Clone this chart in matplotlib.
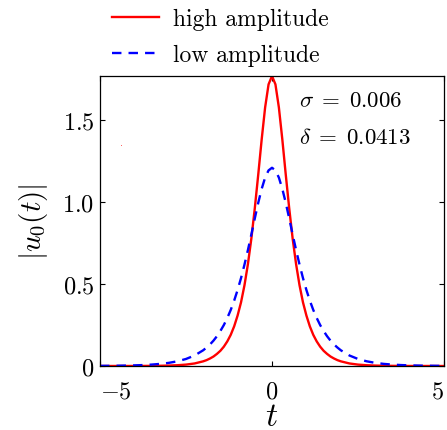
import numpy as np
import matplotlib
matplotlib.use("Agg")
import matplotlib.pyplot as plt

plt.rcParams['font.family'] = 'serif'
plt.rcParams['font.serif'] = ['cmr10', 'DejaVu Serif']
plt.rcParams['mathtext.fontset'] = 'cm'
plt.rcParams['axes.formatter.use_mathtext'] = True

# values (pulse profiles |u0(t)|)
t = [-5.0, -4.75, -4.5, -4.25, -4.0, -3.75, -3.5, -3.25, -3.0, -2.75, -2.5, -2.25,
     -2.0, -1.9, -1.8, -1.7, -1.6, -1.5, -1.4, -1.3, -1.2, -1.1, -1.0, -0.9, -0.8,
     -0.7, -0.6, -0.5, -0.4, -0.3, -0.2, -0.1, 0.0, 0.1, 0.2, 0.3, 0.4, 0.5, 0.6,
     0.7, 0.8, 0.9, 1.0, 1.1, 1.2, 1.3, 1.4, 1.5, 1.6, 1.7, 1.8, 1.9, 2.0,
     2.25, 2.5, 2.75, 3.0, 3.25, 3.5, 3.75, 4.0, 4.25, 4.5, 4.75, 5.0]
high = [0.0, 0.0, 0.0001, 0.0001, 0.0002, 0.0004, 0.0008, 0.0014, 0.0026, 0.0047, 0.0085, 0.0155,
        0.0285, 0.036, 0.046, 0.058, 0.074, 0.093, 0.118, 0.150, 0.190, 0.242, 0.308, 0.389, 0.493,
        0.622, 0.778, 0.963, 1.168, 1.383, 1.578, 1.719, 1.770, 1.719, 1.578, 1.383, 1.168, 0.963, 0.778,
        0.622, 0.493, 0.389, 0.308, 0.242, 0.190, 0.150, 0.118, 0.093, 0.074, 0.058, 0.046, 0.036, 0.0285,
        0.0155, 0.0085, 0.0047, 0.0026, 0.0014, 0.0008, 0.0004, 0.0002, 0.0001, 0.0001, 0.0, 0.0]
low = [0.0008, 0.0011, 0.0017, 0.0026, 0.0038, 0.0057, 0.0086, 0.0128, 0.0192, 0.0287, 0.0429, 0.0642,
       0.096, 0.113, 0.132, 0.155, 0.182, 0.214, 0.250, 0.293, 0.342, 0.399, 0.464, 0.537, 0.619,
       0.708, 0.803, 0.901, 0.996, 1.081, 1.150, 1.194, 1.210, 1.194, 1.150, 1.081, 0.996, 0.901, 0.803,
       0.708, 0.619, 0.537, 0.464, 0.399, 0.342, 0.293, 0.250, 0.214, 0.182, 0.155, 0.132, 0.113, 0.096,
       0.0642, 0.0429, 0.0287, 0.0192, 0.0128, 0.0086, 0.0057, 0.0038, 0.0026, 0.0017, 0.0011, 0.0008]
stray_t = [-4.4]
stray_u = [1.343]

fig = plt.figure(figsize=(4.47, 4.31), dpi=100)
ax = fig.add_axes([0.2237, 0.1485, 0.7696, 0.6728])

ax.plot(t, high, color='red', lw=1.7, label='high amplitude')
ax.plot(t, low, color='blue', lw=1.7, dashes=(4, 3), label='low amplitude')
ax.plot(stray_t, stray_u, ',', color='red', alpha=0.6)

ax.set_xlim(-5, 5)
ax.set_ylim(0, 1.77)
ax.set_xticks([-5, 0, 5])
ax.set_xticklabels([r'$-5$', r'$0$', r'$5$'])
ax.set_yticks([0, 0.5, 1.0, 1.5])
ax.set_yticklabels([r'$0$', r'$0.5$', r'$1.0$', r'$1.5$'])
ax.tick_params(direction='in', top=True, right=True, length=3.5, width=0.8,
               labelsize=17.5, pad=4)
ax.tick_params(axis='x', pad=10)
xl = ax.get_xticklabels()
xl[0].set_ha('left')
xl[-1].set_ha('right')
for s in ax.spines.values():
    s.set_linewidth(0.9)

ax.set_xlabel(r'$t$', fontsize=24, labelpad=0)
ax.set_ylabel(r'$|u_0(t)|$', fontsize=21, labelpad=9)

ax.text(0.785, 1.585, r'$\sigma\;=\;0.006$', fontsize=16.5)
ax.text(0.785, 1.36, r'$\delta\;=\;0.0413$', fontsize=16.5)

fig.legend(loc='upper left', bbox_to_anchor=(0.245, 0.985), frameon=False,
           fontsize=17, handlelength=2.0, handletextpad=0.6, labelspacing=0.6,
           borderpad=0.1, borderaxespad=0)

fig.savefig('out.png', dpi=100)
